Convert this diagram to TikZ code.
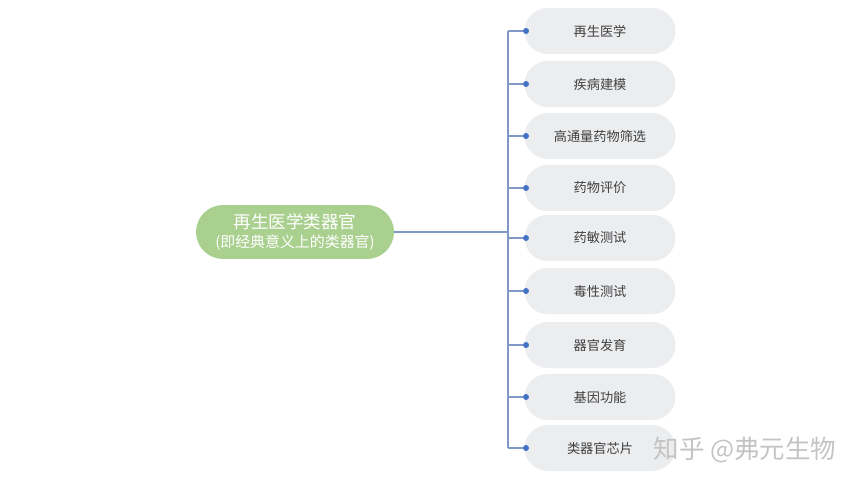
\documentclass[tikz,border=0pt]{standalone}
\usepackage{fontspec}
\setmainfont{Noto Sans CJK SC}
\usetikzlibrary{positioning}
\definecolor{rootgreen}{RGB}{169,208,142}
\definecolor{leafgray}{RGB}{236,237,239}
\definecolor{leaftext}{RGB}{64,64,64}
\definecolor{wirecol}{RGB}{128,152,196}
\definecolor{dotblue}{RGB}{68,114,196}
\definecolor{markgray}{RGB}{196,196,196}
\tikzset{
    rootpill/.style={fill=rootgreen, text=white, align=center, inner sep=0pt,
        minimum width=3.96cm, minimum height=1.08cm, rounded corners=0.54cm},
    leafpill/.style={fill=leafgray, text=leaftext, inner sep=0pt,
        minimum width=3.02cm, minimum height=0.92cm, rounded corners=0.46cm,
        font=\fontsize{7.5}{9}\selectfont},
    dotnode/.style={circle, fill=dotblue, inner sep=0pt, minimum size=0.12cm},
    wire/.style={draw=wirecol, line width=0.6pt},
}

\begin{document}
\begin{tikzpicture}[x=0.02cm, y=-0.02cm]
    % Draw canvas
    \useasboundingbox (0,0) rectangle (860,484);

    % Draw root
    \node[rootpill] (root) at (295,232)
        {{\fontsize{10}{11.5}\selectfont 再生医学类器官}\\[-1pt]
         {\fontsize{8.5}{10}\selectfont (即经典意义上的类器官)}};

    % Draw leaves
    \foreach \i/\y/\t in {1/31/再生医学, 2/84/疾病建模, 3/136/高通量药物筛选,
            4/188/药物评价, 5/238/药敏测试, 6/291/毒性测试, 7/345/器官发育,
            8/397/基因功能, 9/448/类器官芯片} {
        \node[leafpill] (leaf\i) at (600,\y) {\t};
        \node[dotnode] (d\i) at (526,\y) {};
        \coordinate (b\i) at (508,\y);
    }

    % Draw connectors
    \coordinate (jn) at (508,232);
    \draw[wire] (root.east) -- (jn);
    \draw[wire] (b1) -- (b9);
    \foreach \i in {1,...,9} {
        \draw[wire] (b\i) -- (d\i);
    }

    % Draw watermark
    \node[text=markgray, font=\fontsize{14.5}{16}\selectfont] (mark) at (745,450) {知乎 @弗元生物};
\end{tikzpicture}
\end{document}
